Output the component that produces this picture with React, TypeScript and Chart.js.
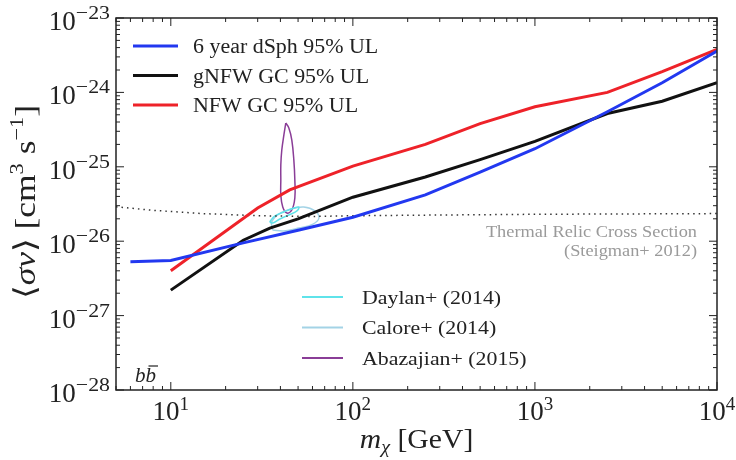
import { useEffect, useRef } from "react";
import { Chart, registerables } from "chart.js";
Chart.register(...registerables);

// ---- data (GeV, cm^3 s^-1) ----
const dsphMass = [6, 10, 25, 50, 100, 250, 500, 1000, 2500, 5000, 10000];
const dsphSigma = [5.3e-27, 5.5e-27, 9.5e-27, 1.4e-26, 2.1e-26, 4.2e-26, 8.5e-26, 1.75e-25, 5.5e-25, 1.35e-24, 3.6e-24];
const gnfwMass = [10, 25, 35, 50, 100, 250, 500, 1000, 2500, 5000, 10000];
const gnfwSigma = [2.2e-27, 1.03e-26, 1.5e-26, 2.0e-26, 3.9e-26, 7.3e-26, 1.25e-25, 2.2e-25, 5.2e-25, 7.6e-25, 1.35e-24];
const nfwMass = [10, 30, 45, 100, 250, 500, 1000, 2500, 5000, 10000];
const nfwSigma = [4e-27, 2.8e-26, 4.9e-26, 1.02e-25, 2e-25, 3.8e-25, 6.4e-25, 1.0e-24, 1.9e-24, 3.8e-24];
const thermalMass = [5, 8, 15, 30, 60, 100, 1000, 10000];
const thermalSigma = [2.9e-26, 2.6e-26, 2.35e-26, 2.2e-26, 2.15e-26, 2.2e-26, 2.3e-26, 2.35e-26];

const abazMass = [42.8, 41.8, 40.7, 40.2, 40.2, 40.2, 41.2, 43.4, 46.2, 48.0, 48.0, 47.4, 46.2, 44.5, 42.8];
const abazSigma = [3.88e-25, 2.68e-25, 1.68e-25, 1.06e-25, 6.65e-26, 4.18e-26, 2.88e-26, 2.39e-26, 2.63e-26, 3.81e-26, 6.65e-26, 1.23e-25, 2.29e-25, 3.33e-25, 3.88e-25];
const daylanMass = [34.9, 37.2, 41.8, 47.4, 50.5, 49.3, 44.5, 39.7, 36.3, 34.9];
const daylanSigma = [1.81e-26, 2.18e-26, 2.47e-26, 2.79e-26, 2.88e-26, 2.55e-26, 2.25e-26, 1.99e-26, 1.76e-26, 1.81e-26];
const caloreMass = [36.3, 35.8, 39.2, 45.6, 53.8, 61.9, 65.1, 60.4, 50.5, 41.8, 36.3];
const caloreSigma = [1.41e-26, 1.81e-26, 2.32e-26, 2.71e-26, 2.88e-26, 2.55e-26, 2.05e-26, 1.7e-26, 1.5e-26, 1.37e-26, 1.41e-26];

const xTickExps = [1, 2, 3, 4];
const yTickExps = [-28, -27, -26, -25, -24, -23];

const mainLabels = ["6 year dSph 95% UL", "gNFW GC 95% UL", "NFW GC 95% UL"];
const mainColors = ["#2238f0", "#111111", "#ee2229"];
const contourLabels = ["Daylan+ (2014)", "Calore+ (2014)", "Abazajian+ (2015)"];
const contourColors = ["#5fe3ea", "#a3d3e6", "#8a3d97"];

const SERIF = '"Liberation Serif", "DejaVu Serif", serif';

const pts = (xs: number[], ys: number[]) => xs.map((x, i) => ({ x, y: ys[i] }));
const expText = (e: number) => String(e).replace("-", "\u2212");

type Run = { t: string; font: string; dy?: number };
function runsWidth(ctx: CanvasRenderingContext2D, runs: Run[], sx = 1) {
  let w = 0;
  for (const r of runs) {
    ctx.font = r.font;
    w += ctx.measureText(r.t).width;
  }
  return w * sx;
}
function drawRuns(ctx: CanvasRenderingContext2D, runs: Run[], x: number, y: number, sx = 1) {
  ctx.save();
  ctx.translate(x, y);
  ctx.scale(sx, 1);
  let cx = 0;
  for (const r of runs) {
    ctx.font = r.font;
    ctx.fillText(r.t, cx, r.dy || 0);
    cx += ctx.measureText(r.t).width;
  }
  ctx.restore();
}
function stretchText(ctx: CanvasRenderingContext2D, s: string, x: number, y: number, font: string, sx: number, align: "left" | "right" | "center" = "left") {
  ctx.save();
  ctx.font = font;
  ctx.textAlign = "left";
  const w = ctx.measureText(s).width * sx;
  const left = align === "left" ? x : align === "right" ? x - w : x - w / 2;
  ctx.translate(left, y);
  ctx.scale(sx, 1);
  ctx.fillText(s, 0, 0);
  ctx.restore();
}

const decorPlugin = {
  id: "decor",
  afterDraw(chart: any) {
    const ctx: CanvasRenderingContext2D = chart.ctx;
    const ca = chart.chartArea;
    const xs = chart.scales.x;
    const ys = chart.scales.y;
    ctx.save();
    ctx.textAlign = "left";
    ctx.textBaseline = "alphabetic";
    // frame
    ctx.strokeStyle = "#222";
    ctx.lineWidth = 1.5;
    ctx.strokeRect(ca.left, ca.top, ca.right - ca.left, ca.bottom - ca.top);
    // ticks
    ctx.lineWidth = 1;
    for (let e = 0; e <= 4; e++) {
      for (let m = 1; m <= 9; m++) {
        const v = m * Math.pow(10, e);
        if (v < 5 || v > 10000) continue;
        const px = xs.getPixelForValue(v);
        const len = m === 1 ? 8 : 4;
        ctx.beginPath();
        ctx.moveTo(px, ca.bottom);
        ctx.lineTo(px, ca.bottom - len);
        ctx.moveTo(px, ca.top);
        ctx.lineTo(px, ca.top + len);
        ctx.stroke();
      }
    }
    for (let e = -28; e <= -23; e++) {
      for (let m = 1; m <= 9; m++) {
        if (e === -23 && m > 1) continue;
        const v = m * Math.pow(10, e);
        const py = ys.getPixelForValue(v);
        const len = m === 1 ? 8 : 4;
        ctx.beginPath();
        ctx.moveTo(ca.left, py);
        ctx.lineTo(ca.left + len, py);
        ctx.moveTo(ca.right, py);
        ctx.lineTo(ca.right - len, py);
        ctx.stroke();
      }
    }
    // tick labels
    ctx.fillStyle = "#222";
    const big = `27px ${SERIF}`;
    const small = `19px ${SERIF}`;
    for (const e of yTickExps) {
      const py = ys.getPixelForValue(Math.pow(10, e));
      ctx.font = big;
      const w1 = ctx.measureText("10").width;
      ctx.font = small;
      const w2 = ctx.measureText(expText(e)).width * 1.15;
      const left = 110 - w1 - w2;
      drawRuns(ctx, [{ t: "10", font: big }], left, py + 12);
      drawRuns(ctx, [{ t: expText(e), font: small }], left + w1, py + 1, 1.15);
    }
    for (const e of xTickExps) {
      const px = xs.getPixelForValue(Math.pow(10, e));
      const runs: Run[] = [
        { t: "10", font: big, dy: 0 },
        { t: String(e), font: small, dy: -10 },
      ];
      const w = runsWidth(ctx, runs);
      drawRuns(ctx, runs, px - w / 2, 420);
    }
    // axis titles
    const tf = `28px ${SERIF}`;
    const tfi = `italic 28px ${SERIF}`;
    const tfsi = `italic 19px ${SERIF}`;
    const xRuns: Run[] = [
      { t: "m", font: tfi },
      { t: "\u03c7", font: tfsi, dy: 5 },
      { t: " [GeV]", font: tf },
    ];
    const xw = runsWidth(ctx, xRuns, 1.06);
    drawRuns(ctx, xRuns, (ca.left + ca.right) / 2 - xw / 2, 448, 1.06);

    const yf = `30px ${SERIF}`;
    const yfi = `italic 30px ${SERIF}`;
    const yfs = `19px ${SERIF}`;
    const yRuns: Run[] = [
      { t: "\u27e8", font: yf },
      { t: "\u03c3v", font: yfi },
      { t: "\u27e9 [cm", font: yf },
      { t: "3", font: yfs, dy: -12 },
      { t: " s", font: yf },
      { t: "\u22121", font: yfs, dy: -12 },
      { t: "]", font: yf },
    ];
    const ysx = 1.18;
    const yw = runsWidth(ctx, yRuns, ysx);
    ctx.save();
    ctx.translate(35, 202);
    ctx.rotate(-Math.PI / 2);
    drawRuns(ctx, yRuns, -yw / 2, 0, ysx);
    ctx.restore();

    // main legend
    ctx.lineCap = "butt";
    mainLabels.forEach((lab, i) => {
      const y = 46 + i * 29.5;
      ctx.strokeStyle = mainColors[i];
      ctx.lineWidth = 3;
      ctx.beginPath();
      ctx.moveTo(133, y);
      ctx.lineTo(178, y);
      ctx.stroke();
      ctx.fillStyle = "#222";
      stretchText(ctx, lab, 193, y + 7, `20.5px ${SERIF}`, 1.07);
    });
    // contour legend
    contourLabels.forEach((lab, i) => {
      const y = 297 + i * 30.5;
      ctx.strokeStyle = contourColors[i];
      ctx.lineWidth = 2;
      ctx.beginPath();
      ctx.moveTo(302, y);
      ctx.lineTo(343, y);
      ctx.stroke();
      ctx.fillStyle = "#222";
      stretchText(ctx, lab, 362, y + 6.5, `19.5px ${SERIF}`, 1.12);
    });
    // thermal relic note
    ctx.fillStyle = "#9a9a9a";
    stretchText(ctx, "Thermal Relic Cross Section", 697, 237, `16.5px ${SERIF}`, 1.11, "right");
    stretchText(ctx, "(Steigman+ 2012)", 697, 256, `16.5px ${SERIF}`, 1.11, "right");
    // channel
    ctx.textAlign = "left";
    ctx.fillStyle = "#222";
    ctx.font = `italic 21px ${SERIF}`;
    ctx.fillText("b", 135, 382);
    const bw = ctx.measureText("b").width;
    ctx.fillText("b", 135 + bw, 382);
    ctx.lineWidth = 1.2;
    ctx.strokeStyle = "#222";
    ctx.beginPath();
    ctx.moveTo(135 + bw + 3, 366);
    ctx.lineTo(135 + 2 * bw + 2, 366);
    ctx.stroke();
    ctx.restore();
  },
};

export default function App() {
  const ref = useRef<HTMLCanvasElement>(null);
  useEffect(() => {
    if (!ref.current) return;
    const chart = new Chart(ref.current, {
      type: "line",
      data: {
        datasets: [
          { label: mainLabels[0], data: pts(dsphMass, dsphSigma), borderColor: mainColors[0], borderWidth: 3, order: 1 },
          { label: mainLabels[1], data: pts(gnfwMass, gnfwSigma), borderColor: mainColors[1], borderWidth: 3, order: 2 },
          { label: mainLabels[2], data: pts(nfwMass, nfwSigma), borderColor: mainColors[2], borderWidth: 3, order: 3 },
          { label: "Thermal relic", data: pts(thermalMass, thermalSigma), borderColor: "#333", borderWidth: 1.5, borderDash: [1.5, 4], order: 4 },
          { label: contourLabels[0], data: pts(daylanMass, daylanSigma), borderColor: contourColors[0], borderWidth: 1.5, tension: 0.4, order: 5 },
          { label: contourLabels[1], data: pts(caloreMass, caloreSigma), borderColor: contourColors[1], borderWidth: 1.5, tension: 0.4, order: 6 },
          { label: contourLabels[2], data: pts(abazMass, abazSigma), borderColor: contourColors[2], borderWidth: 1.5, tension: 0.4, order: 7 },
        ] as any,
      },
      options: {
        animation: false,
        responsive: false,
        maintainAspectRatio: false,
        elements: { point: { radius: 0, hoverRadius: 0 }, line: { fill: false } },
        layout: { padding: { left: 0, right: 19, top: 18, bottom: 0 } },
        plugins: { legend: { display: false }, tooltip: { enabled: false } },
        scales: {
          x: {
            type: "logarithmic",
            min: 5,
            max: 10000,
            ticks: { display: false },
            grid: { display: false },
            border: { display: false },
            afterFit: (s: any) => { s.height = 70; },
          },
          y: {
            type: "logarithmic",
            min: 1e-28,
            max: 1e-23,
            ticks: { display: false },
            grid: { display: false },
            border: { display: false },
            afterFit: (s: any) => { s.width = 116; },
          },
        },
      } as any,
      plugins: [decorPlugin],
    });
    return () => chart.destroy();
  }, []);
  return (
    <div style={{ position: "fixed", left: 0, top: 0, width: 736, height: 460, background: "#fff" }}>
      <canvas ref={ref} width={736} height={460} style={{ width: 736, height: 460 }} />
    </div>
  );
}
